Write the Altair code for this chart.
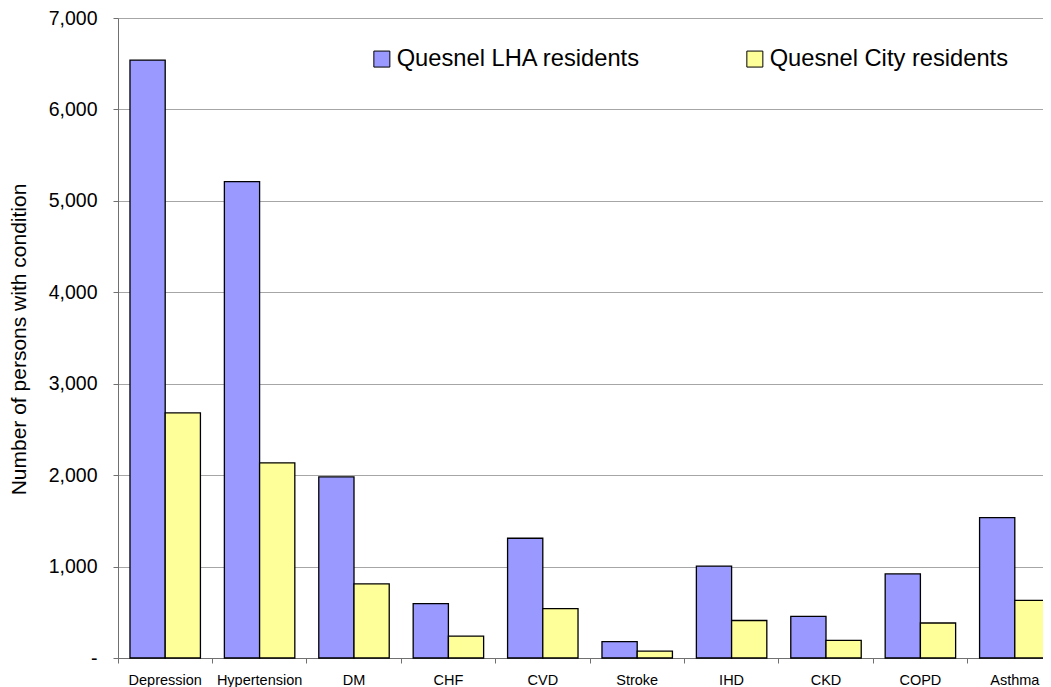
import altair as alt
import pandas as pd

categories = ["Depression", "Hypertension", "DM", "CHF", "CVD",
              "Stroke", "IHD", "CKD", "COPD", "Asthma"]
lha_values = [6540, 5210, 1980, 595, 1310, 180, 1005, 455, 920, 1535]
city_values = [2680, 2135, 810, 240, 540, 75, 410, 193, 383, 630]
series_names = ["Quesnel LHA residents", "Quesnel City residents"]
series_colors = ["#9999FF", "#FFFF99"]
y_ticks = [0, 1000, 2000, 3000, 4000, 5000, 6000, 7000]

rows = []
for c, a, b in zip(categories, lha_values, city_values):
    rows.append({"cat": c, "series": series_names[0], "value": a})
    rows.append({"cat": c, "series": series_names[1], "value": b})
df = pd.DataFrame(rows)

FONT = "Liberation Sans"

chart = alt.Chart(df).mark_bar(stroke="black", strokeWidth=1.3).encode(
    x=alt.X(
        "cat:N", sort=categories,
        scale=alt.Scale(paddingInner=0, paddingOuter=0, range=[0, 944]),
        axis=alt.Axis(
            title=None, labelAngle=0, bandPosition=0,
            tickSize=5, labelPadding=10, labelFontSize=14.5, labelFont=FONT,
            labelColor="black", domainColor="#707070", tickColor="#707070",
            grid=False, labelOverlap=False,
        ),
    ),
    xOffset=alt.XOffset(
        "series:N", sort=series_names,
        scale=alt.Scale(paddingInner=0, paddingOuter=0.34),
    ),
    y=alt.Y(
        "value:Q",
        scale=alt.Scale(domain=[0, 7000], nice=False),
        axis=alt.Axis(
            values=y_ticks,
            labelExpr="datum.value == 0 ? '-' : format(datum.value, ',')",
            title="Number of persons with condition",
            titleFont=FONT, titleFontSize=21, titleFontWeight="normal",
            titleColor="black", titleX=-99, titleY=321,
            titleAlign="center", titleBaseline="middle", titleAngle=270,
            labelFont=FONT, labelFontSize=19.5, labelColor="black",
            labelPadding=16, tickSize=5,
            domainColor="#707070", tickColor="#707070",
            gridColor="#a6a6a6", gridWidth=1,
        ),
    ),
    color=alt.Color(
        "series:N", sort=series_names,
        scale=alt.Scale(domain=series_names, range=series_colors),
        legend=alt.Legend(
            title=None, orient="none", legendX=252, legendY=29,
            direction="horizontal", symbolType="square", symbolSize=256,
            symbolStrokeColor="black", symbolStrokeWidth=1,
            labelFont=FONT, labelFontSize=23.7, labelColor="black",
            labelOffset=3, labelLimit=400, columnPadding=102, padding=0,
        ),
    ),
).properties(
    width=925,
    height=640,
    autosize=alt.AutoSizeParams(type="none"),
    padding={"left": 110, "top": 10, "right": 0, "bottom": 29},
).configure_view(
    stroke=None
).configure(
    background="white"
)

chart.save("out.html", embed_options={"renderer": "svg", "actions": False})
